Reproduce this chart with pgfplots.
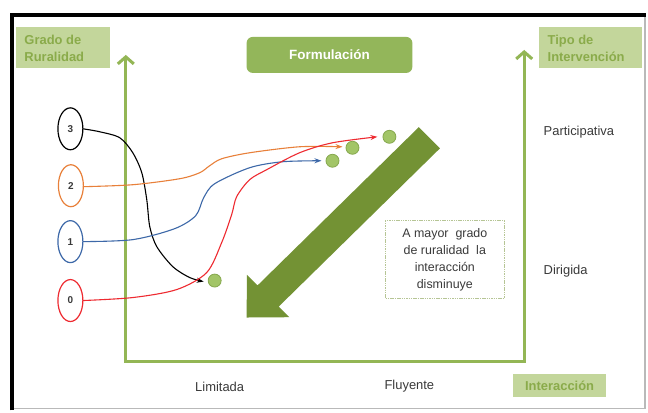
\documentclass[border=0pt]{standalone}
\usepackage{pgfplots}
\pgfplotsset{compat=1.18}
\usepackage{fontspec}
\setmainfont{Liberation Sans}
\usetikzlibrary{arrows.meta,shapes.geometric}
\definecolor{axgreen}{HTML}{93B655}
\definecolor{boxfill}{HTML}{C3D69B}
\definecolor{boxtext}{HTML}{8AAB4A}
\definecolor{formfill}{HTML}{93B65A}
\definecolor{bigarrow}{HTML}{739234}
\definecolor{dotgreen}{HTML}{A2C567}
\definecolor{dotedge}{HTML}{86A84E}
\definecolor{corange}{HTML}{E8803A}
\definecolor{cblue}{HTML}{3D68A8}
\definecolor{cred}{HTML}{EE2A30}
\definecolor{txt}{HTML}{3A3A3A}
\begin{document}
\begin{tikzpicture}
\begin{axis}[scale only axis, width=648bp, height=412bp,
  xmin=0, xmax=648, ymin=0, ymax=412, y dir=reverse,
  hide axis, clip=false]
\fill[white] (axis cs:0,0) rectangle (axis cs:648,412);
% frame
\draw[gray!55, line width=1.5bp] (axis cs:646,15) -- (axis cs:646,409) -- (axis cs:12,409);
\draw[black, line width=4bp] (axis cs:12,411) -- (axis cs:12,15) -- (axis cs:647,15);
% header boxes
\fill[boxfill] (axis cs:16,27) rectangle (axis cs:110,68);
\node[boxtext, anchor=west, align=left, font=\bfseries\fontsize{13}{17}\selectfont] at (axis cs:21,48.5) {Grado de\\Ruralidad};
\fill[boxfill] (axis cs:540,27) rectangle (axis cs:643,68);
\node[boxtext, anchor=west, align=left, font=\bfseries\fontsize{13}{17}\selectfont] at (axis cs:545,48.5) {Tipo de\\Intervención};
\fill[formfill, rounded corners=6bp] (axis cs:247,37) rectangle (axis cs:413,73);
\node[white, font=\bfseries\fontsize{13.5}{16}\selectfont] at (axis cs:330,55) {Formulación};
\fill[boxfill] (axis cs:514,375) rectangle (axis cs:607,398);
\node[boxtext, font=\bfseries\fontsize{13}{16}\selectfont] at (axis cs:560.5,386.5) {Interacción};
% green U axes
\addplot[axgreen, line width=3bp, {Straight Barb[length=7bp,width=16bp]}-{Straight Barb[length=7bp,width=16bp]}]
  coordinates {(126,55) (126,362) (525,362) (525,50)};
% labels
\node[txt, anchor=west, font=\fontsize{13}{16}\selectfont] at (axis cs:541,132) {Participativa};
\node[txt, anchor=west, font=\fontsize{13}{16}\selectfont] at (axis cs:541,272) {Dirigida};
\node[txt, font=\fontsize{13}{16}\selectfont] at (axis cs:220,387) {Limitada};
\node[txt, font=\fontsize{13}{16}\selectfont] at (axis cs:410,387) {Fluyente};
% text box
\draw[boxfill!80!gray, line width=1bp, dash pattern=on 1.5bp off 0.8bp] (axis cs:386,221) rectangle (axis cs:505,299);
\node[txt, align=center, font=\fontsize{12.5}{17}\selectfont] at (axis cs:445.5,260) {A mayor\ \ grado\\de ruralidad\ \ la\\interacción\\disminuye};
% big arrow
\addplot[fill=bigarrow, draw=none] coordinates {(419.4,127.4) (440.6,148.6) (279.1,307.1) (289.7,317.7) (247,318) (247.3,275.3) (257.9,285.9)} -- cycle;
% curves
\addplot[black, line width=1.1bp, smooth, -{Stealth[length=7bp,width=5bp]}] coordinates {(83,129) (100,132) (120,138) (133,153) (142,173) (147,200) (150,227) (157,247) (173,267) (190,278) (204,282)};
\addplot[corange, line width=1.1bp, smooth, -{Stealth[length=7bp,width=5bp]}] coordinates {(83,187) (133,185) (180,179) (200,173) (210,166) (222,159) (250,153) (300,147) (343,147)};
\addplot[cblue, line width=1.1bp, smooth, -{Stealth[length=7bp,width=5bp]}] coordinates {(83,242) (133,240) (175,229) (196,216) (204,198) (215,184) (250,168) (283,162) (322,161)};
\addplot[cred, line width=1.1bp, smooth, -{Stealth[length=7bp,width=5bp]}] coordinates {(83,301) (133,298) (177,290) (207,273) (222,243) (232,215) (237,197) (250,180) (267,170) (300,153) (333,143) (378,137)};
% dots
\addplot[only marks, mark=*, mark size=6.5bp, mark options={fill=dotgreen, draw=dotedge, line width=0.8bp}] coordinates {(215,281) (333,161) (353,148) (390,137)};
% ovals
\node[ellipse, draw=black, line width=1.2bp, fill=white, minimum width=25bp, minimum height=42bp, inner sep=0pt, font=\bfseries\fontsize{10}{12}\selectfont, text=txt] at (axis cs:70.5,129) {3};
\node[ellipse, draw=corange, line width=1.2bp, fill=white, minimum width=25bp, minimum height=42bp, inner sep=0pt, font=\bfseries\fontsize{10}{12}\selectfont, text=txt] at (axis cs:71,186) {2};
\node[ellipse, draw=cblue, line width=1.2bp, fill=white, minimum width=25bp, minimum height=42bp, inner sep=0pt, font=\bfseries\fontsize{10}{12}\selectfont, text=txt] at (axis cs:70.5,242) {1};
\node[ellipse, draw=cred, line width=1.2bp, fill=white, minimum width=25bp, minimum height=42bp, inner sep=0pt, font=\bfseries\fontsize{10}{12}\selectfont, text=txt] at (axis cs:70.5,301) {0};
\end{axis}
\end{tikzpicture}
\end{document}
